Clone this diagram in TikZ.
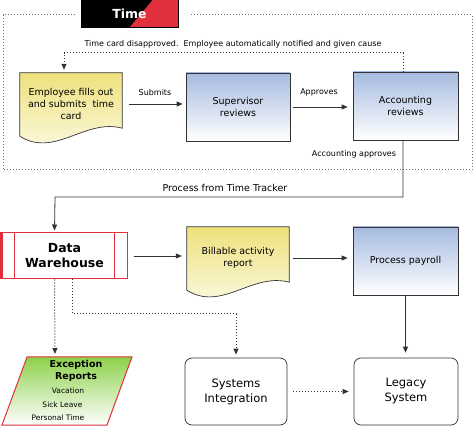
\documentclass[tikz,border=0pt]{standalone}
\usepackage{fontspec}
\setmainfont{DejaVu Sans}
\usetikzlibrary{arrows.meta,calc}
\pgfdeclarelayer{background}
\pgfsetlayers{background,main}
\definecolor{myred}{HTML}{E0303C}
\definecolor{boxblue}{HTML}{A6BBE0}
\definecolor{docyel}{HTML}{EDE17C}
\definecolor{docyelb}{HTML}{FDFBEA}
\definecolor{excgreen}{HTML}{8DD14B}
\definecolor{edge}{HTML}{333333}
\definecolor{framegray}{HTML}{6E6E6E}
\newcommand{\docshape}[1]{%
  \begin{pgfonlayer}{background}
  \shade[top color=docyel, bottom color=docyelb, draw=edge, line width=0.7pt]
    (#1.north west) -- (#1.north east) -- ($(#1.south east)+(0,-7)$)
    .. controls ($(#1.south west)+(65,-17)$) and ($(#1.south west)+(35,23)$) ..
    ($(#1.south west)+(0,1)$) -- cycle;
  \end{pgfonlayer}}
\begin{document}
\begin{tikzpicture}[x=1pt,y=-1pt,
  frame/.style={draw=framegray, line width=1pt, dash pattern=on 1pt off 2pt},
  arr/.style={draw=edge, line width=0.8pt, -{Triangle[length=6pt,width=5pt]}},
  dotarr/.style={arr, line width=1pt, dash pattern=on 1pt off 2pt},
  dotline/.style={draw=edge, line width=1pt, dash pattern=on 1pt off 2pt},
  bluebox/.style={draw=edge, line width=0.7pt, top color=boxblue, bottom color=white,
    minimum width=105pt, minimum height=68pt, inner sep=0pt, align=center,
    font=\fontsize{9.5}{12}\selectfont},
  docnode/.style={minimum width=102pt, minimum height=62pt, inner sep=0pt, align=center,
    font=\fontsize{9.5}{12}\selectfont},
  roundbox/.style={draw=edge, line width=0.7pt, fill=white, rounded corners=7pt,
    minimum width=103pt, minimum height=67pt, inner sep=0pt, align=center,
    font=\fontsize{11.5}{15}\selectfont},
  small/.style={font=\fontsize{8}{9.5}\selectfont, inner sep=0pt},
  tiny/.style={font=\fontsize{7.5}{9}\selectfont, inner sep=0pt},
  mid/.style={font=\fontsize{9.5}{12}\selectfont, inner sep=0pt}
]
\useasboundingbox (0,0) rectangle (474,430);

% outer dotted frame
\draw[frame] (75,15) -- (3,15) -- (3,170) -- (472,170) -- (472,15) -- (190,15);

% Time title
\node[minimum width=97pt, minimum height=27pt, inner sep=0pt, text=white,
  font=\bfseries\fontsize{12.5}{15}\selectfont] (timebox) at (129.5,13.5) {Time};
\begin{pgfonlayer}{background}
  \fill[black] (timebox.north west) rectangle (timebox.south east);
  \fill[myred] ($(timebox.north west)+(72,0)$) -- (timebox.north east) --
    (timebox.south east) -- ($(timebox.south west)+(49,0)$) -- cycle;
\end{pgfonlayer}
\draw[black, line width=0.6pt] (timebox.north west) rectangle (timebox.south east);

% top row
\node[docnode] (emp) at (71,104) {Employee fills out\\and submits\ \ time\\card};
\docshape{emp}
\node[bluebox, minimum width=104pt] (sup) at (238,107) {Supervisor\\reviews};
\node[bluebox] (acc) at (405.5,106) {Accounting\\reviews};

\draw[arr, shorten <=7pt, shorten >=3pt] (emp.east) -- (emp.east -| sup.west);
\node[small] (lsub) at (155,93) {Submits};
\draw[arr, shorten <=3pt, shorten >=5pt] (sup.east) -- (sup.east -| acc.west);
\node[small] (lapp) at (319,92) {Approves};

% feedback loop
\coordinate (accup) at ($(acc.north)+(-2.5,0)$);
\coordinate (fbl) at (64,53);
\coordinate (empin) at ($(emp.north)+(-7,0)$);
\draw[dotarr, shorten >=3pt] (accup) |- (fbl) -- (empin);
\draw[dotline] ($(sup.north)+(3,0)$) -- ($(sup.north)+(3,0)$ |- fbl);
\node[small] (ldis) at (233,44) {Time card disapproved.\ \ Employee automatically notified and given cause};

% accounting -> data warehouse
\node[draw=myred, line width=1pt, fill=white, minimum width=125pt, minimum height=46pt,
  inner sep=0pt, align=center, font=\bfseries\fontsize{12.5}{15}\selectfont]
  (dw) at (64.5,256) {Data\\Warehouse};
\draw[myred, line width=0.8pt] ($(dw.north west)+(13,0)$) -- ($(dw.south west)+(13,0)$);
\draw[myred, line width=0.8pt] ($(dw.north east)+(-13,0)$) -- ($(dw.south east)+(-13,0)$);
\draw[myred, line width=2.5pt] (dw.north west) -- (dw.south west);

\node[small] (lacc) at (354,154) {Accounting approves};
\coordinate (accdown) at ($(acc.south)+(-2.5,0)$);
\coordinate (pttturn) at (55,197);
\coordinate (dwin) at ($(dw.north west)+(53,0)$);
\draw[arr, shorten >=2pt] (accdown) |- (pttturn) -- (dwin);
\node[mid] (lptt) at (225,188) {Process from Time Tracker};

% middle row
\node[docnode] (bill) at (238,258) {Billable activity\\report};
\docshape{bill}
\node[bluebox] (pay) at (405.5,261) {Process payroll};

\draw[arr, shorten <=6pt, shorten >=5pt] (dw.east) -- (dw.east -| bill.west);
\draw[arr, shorten <=4pt, shorten >=5pt] (bill.east) -- (bill.east -| pay.west);

% bottom row
\node[roundbox, minimum width=102pt] (si) at (236,391.5) {Systems\\Integration};
\node[roundbox, minimum width=104pt] (leg) at (406,391.5) {Legacy\\System};

\draw[arr, shorten <=1pt, shorten >=5pt] (pay.south) -- (pay.south |- leg.north);
\draw[dotarr, shorten <=6pt, shorten >=5pt] (si.east) -- (si.east -| leg.west);

% exception reports parallelogram
\coordinate (exc1) at (27,357);
\coordinate (exc2) at (132,357);
\coordinate (exc3) at (107,425);
\coordinate (exc4) at (2,425);
\shade[top color=excgreen, bottom color=white, draw=myred, line width=1pt]
  (exc1) -- (exc2) -- (exc3) -- (exc4) -- cycle;
\node[inner sep=0pt, align=center, font=\bfseries\fontsize{9.5}{12}\selectfont]
  (exct) at (76,371) {Exception\\Reports};
\node[tiny] (exca) at (68,391) {Vacation};
\node[tiny] (excb) at (62.5,405) {Sick Leave};
\node[tiny] (excc) at (58,418) {Personal Time};

% dotted from data warehouse
\coordinate (dwout1) at ($(dw.south west)+(53,0)$);
\coordinate (dwout2) at ($(dw.south west)+(71,0)$);
\coordinate (excin) at (55,357);
\coordinate (dsbend) at (236,314);
\draw[dotarr, shorten >=3pt] (dwout1) -- (excin);
\draw[dotarr, shorten >=3pt] (dwout2) |- (dsbend) -- (si.north);
\end{tikzpicture}
\end{document}
